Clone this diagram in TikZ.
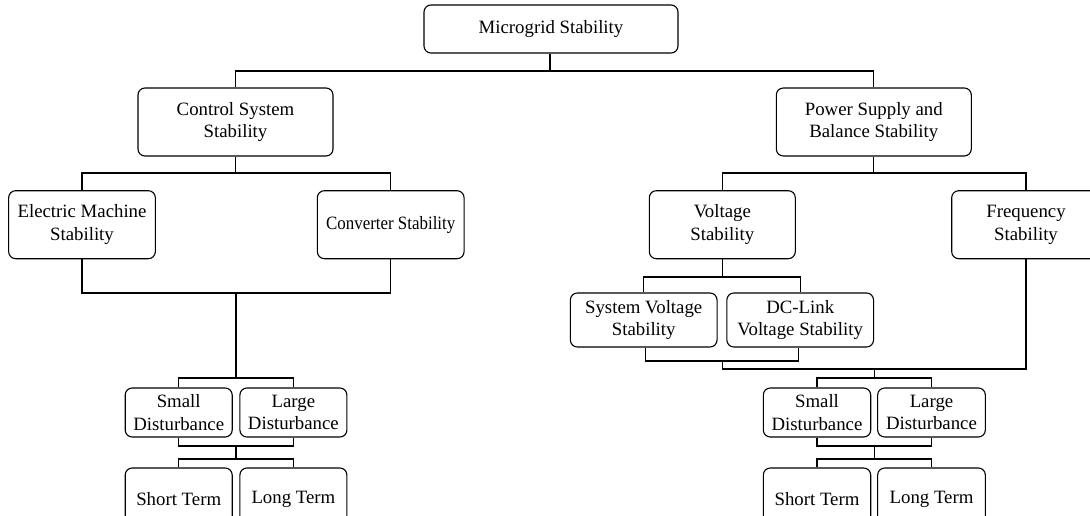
\documentclass[tikz,border=0pt]{standalone}
\usepackage{graphicx}
\usepackage{fontspec}
\setmainfont{Liberation Serif}
\begin{document}
\begin{tikzpicture}[x=1pt,y=-1pt,
  box/.style={draw, rounded corners=7pt, line width=1.1pt, align=center, inner sep=0pt,
    font=\fontsize{18.8}{22.5}\selectfont},
  conn/.style={line width=1.1pt, line join=miter}]
\fill[white] (0,0) rectangle (1090,516);
\clip (0,0) rectangle (1090,516);
% level 1
\node[box, minimum width=254pt, minimum height=48pt] (ms) at (551,29) {Microgrid Stability};
% level 2
\node[box, minimum width=195pt, minimum height=68pt] (cs) at (235.5,122) {Control System\\Stability};
\node[box, minimum width=195pt, minimum height=68pt] (ps) at (873.8,122) {Power Supply and\\Balance Stability};
% level 3
\node[box, minimum width=146.7pt, minimum height=68pt] (em) at (82,224.7) {Electric Machine\\Stability};
\node[box, minimum width=146.7pt, minimum height=68pt] (cv) at (390.7,224.7) {\scalebox{0.9}[1]{Converter Stability}};
\node[box, minimum width=146pt, minimum height=68pt] (vs) at (722.3,224.7) {Voltage\\Stability};
\node[box, minimum width=148.6pt, minimum height=68pt] (fs) at (1026,224.7) {Frequency\\Stability};
% voltage sub
\node[box, minimum width=146.7pt, minimum height=54pt] (svs) at (643.7,320) {System Voltage\\Stability};
\node[box, minimum width=146.7pt, minimum height=54pt] (dcv) at (800.2,320) {DC-Link\\Voltage Stability};
% disturbance left
\node[box, minimum width=107pt, minimum height=49pt] (sdL) at (178.7,412.5) {Small\\Disturbance};
\node[box, minimum width=107pt, minimum height=49pt] (ldL) at (293.4,412.5) {Large\\Disturbance};
\node[box, minimum width=107pt, minimum height=63pt] (stL) at (178.7,499.5) {Short Term};
\node[box, minimum width=107pt, minimum height=63pt] (ltL) at (293.4,499.5) {Long Term};
% disturbance right
\node[box, minimum width=107.4pt, minimum height=49pt] (sdR) at (817,412.5) {Small\\Disturbance};
\node[box, minimum width=107.7pt, minimum height=49pt] (ldR) at (931.5,412.5) {Large\\Disturbance};
\node[box, minimum width=107.4pt, minimum height=63pt] (stR) at (817,499.5) {Short Term};
\node[box, minimum width=107.7pt, minimum height=63pt] (ltR) at (931.5,499.5) {Long Term};
% junction coordinates
\coordinate (jTop) at (550,71);
\coordinate (jCS) at (235.5,173);
\coordinate (jPS) at (873.8,173);
\coordinate (jL1) at (236,293);
\coordinate (jL2) at (236,378);
\coordinate (jL3) at (236,446);
\coordinate (jL4) at (236,459);
\coordinate (jV1) at (722.3,277);
\coordinate (jV2) at (722.3,361);
\coordinate (jV3) at (722.3,369);
\coordinate (jR1) at (874.2,369);
\coordinate (jR2) at (874.2,378);
\coordinate (jR3) at (874.2,446);
\coordinate (jR4) at (874.2,459);
% connectors level 1-2
\draw[conn] ([xshift=-1pt]ms.south) -- (jTop);
\draw[conn] (cs.north) -- (cs.north |- jTop) -- (ps.north |- jTop) -- (ps.north);
% level 2-3 left
\draw[conn] (cs.south) -- (jCS);
\draw[conn] (em.north) -- (em.north |- jCS) -- (cv.north |- jCS) -- (cv.north);
% level 2-3 right
\draw[conn] (ps.south) -- (jPS);
\draw[conn] (vs.north) -- (vs.north |- jPS) -- (fs.north |- jPS) -- (fs.north);
% left bottom
\draw[conn] (em.south) -- (em.south |- jL1) -- (cv.south |- jL1) -- (cv.south);
\draw[conn] (jL1) -- (jL2);
\draw[conn] (sdL.north) -- (sdL.north |- jL2) -- (ldL.north |- jL2) -- (ldL.north);
\draw[conn] (sdL.south) -- (sdL.south |- jL3) -- (ldL.south |- jL3) -- (ldL.south);
\draw[conn] (jL3) -- (jL4);
\draw[conn] (stL.north) -- (stL.north |- jL4) -- (ltL.north |- jL4) -- (ltL.north);
% voltage sub
\draw[conn] (vs.south) -- (jV1);
\draw[conn] (svs.north) -- (svs.north |- jV1) -- (dcv.north |- jV1) -- (dcv.north);
\draw[conn] ([xshift=2pt]svs.south) -- ([xshift=2pt]svs.south |- jV2) -- ([xshift=-1.5pt]dcv.south |- jV2) -- ([xshift=-1.5pt]dcv.south);
\draw[conn] (jV2) -- (jV3) -- (fs.south |- jV3) -- (fs.south);
% right bottom
\draw[conn] (jR1) -- (jR2);
\draw[conn] (sdR.north) -- (sdR.north |- jR2) -- (ldR.north |- jR2) -- (ldR.north);
\draw[conn] (sdR.south) -- (sdR.south |- jR3) -- (ldR.south |- jR3) -- (ldR.south);
\draw[conn] (jR3) -- (jR4);
\draw[conn] (stR.north) -- (stR.north |- jR4) -- (ltR.north |- jR4) -- (ltR.north);
\end{tikzpicture}
\end{document}
